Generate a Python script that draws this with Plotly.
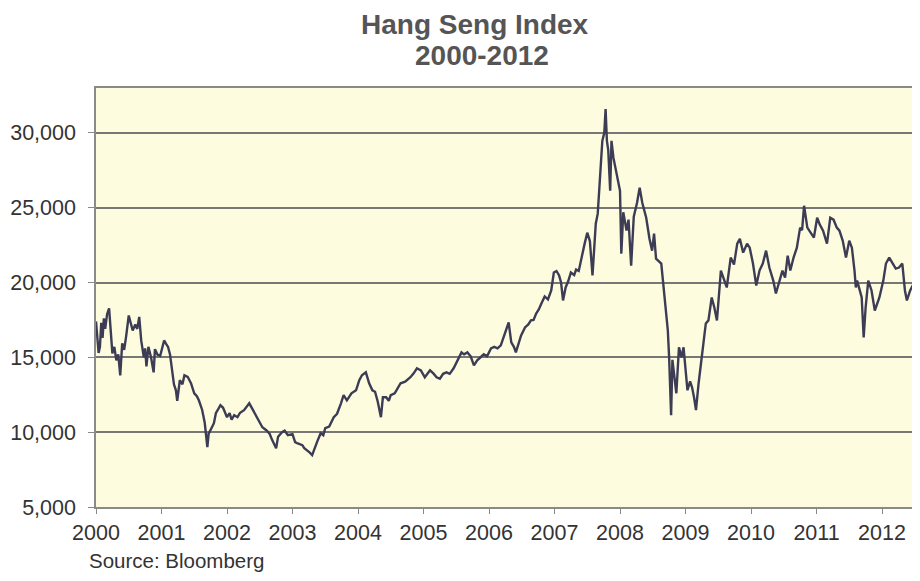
import plotly.graph_objects as go

# Decimal-year positions of the readings and the index level
years = [
 2000.00,2000.02,2000.04,2000.06,2000.08,2000.10,2000.12,2000.14,2000.17,2000.20,
 2000.22,2000.25,2000.28,2000.31,2000.34,2000.37,2000.40,2000.43,2000.46,2000.50,
 2000.53,2000.56,2000.60,2000.63,2000.66,2000.69,2000.73,2000.75,2000.77,2000.80,
 2000.84,2000.88,2000.90,2000.94,2000.98,2001.04,2001.07,2001.10,2001.13,2001.16,
 2001.19,2001.22,2001.24,2001.28,2001.32,2001.35,2001.40,2001.45,2001.50,2001.54,
 2001.57,2001.62,2001.66,2001.70,2001.72,2001.77,2001.80,2001.83,2001.90,2001.94,
 2002.00,2002.04,2002.07,2002.11,2002.16,2002.20,2002.26,2002.34,2002.38,2002.42,
 2002.45,2002.50,2002.54,2002.60,2002.65,2002.69,2002.75,2002.78,2002.84,2002.88,
 2002.93,2003.00,2003.04,2003.07,2003.12,2003.15,2003.18,2003.22,2003.26,2003.30,
 2003.34,2003.38,2003.43,2003.47,2003.50,2003.56,2003.63,2003.68,2003.74,2003.78,
 2003.83,2003.90,2003.97,2004.02,2004.06,2004.12,2004.17,2004.22,2004.26,2004.30,
 2004.35,2004.38,2004.43,2004.47,2004.50,2004.56,2004.60,2004.65,2004.72,2004.80,
 2004.85,2004.90,2004.96,2005.02,2005.06,2005.10,2005.15,2005.20,2005.25,2005.30,
 2005.35,2005.40,2005.46,2005.52,2005.58,2005.62,2005.67,2005.72,2005.77,2005.82,
 2005.87,2005.92,2005.97,2006.03,2006.08,2006.13,2006.18,2006.23,2006.27,2006.30,
 2006.34,2006.38,2006.41,2006.45,2006.49,2006.55,2006.60,2006.64,2006.68,2006.72,
 2006.76,2006.80,2006.85,2006.90,2006.95,2006.99,2007.03,2007.07,2007.10,2007.13,
 2007.17,2007.21,2007.25,2007.30,2007.33,2007.37,2007.42,2007.46,2007.50,2007.54,
 2007.58,2007.61,2007.63,2007.66,2007.70,2007.73,2007.76,2007.78,2007.80,2007.82,
 2007.85,2007.87,2007.90,2007.96,2008.00,2008.02,2008.05,2008.10,2008.13,2008.17,
 2008.21,2008.26,2008.30,2008.34,2008.40,2008.45,2008.49,2008.52,2008.55,2008.63,
 2008.66,2008.69,2008.73,2008.75,2008.78,2008.80,2008.82,2008.86,2008.90,2008.94,
 2008.97,2009.03,2009.07,2009.10,2009.13,2009.16,2009.20,2009.24,2009.27,2009.31,
 2009.35,2009.40,2009.44,2009.48,2009.54,2009.58,2009.63,2009.69,2009.74,2009.79,
 2009.83,2009.88,2009.94,2009.98,2010.03,2010.08,2010.13,2010.18,2010.23,2010.28,
 2010.34,2010.38,2010.43,2010.48,2010.52,2010.56,2010.60,2010.65,2010.70,2010.75,
 2010.78,2010.81,2010.86,2010.91,2010.96,2011.01,2011.05,2011.10,2011.16,2011.21,
 2011.26,2011.31,2011.35,2011.40,2011.45,2011.50,2011.54,2011.58,2011.60,2011.62,
 2011.69,2011.72,2011.75,2011.79,2011.84,2011.89,2011.96,2012.02,2012.06,2012.11,
 2012.16,2012.21,2012.26,2012.31,2012.35,2012.38,2012.43,2012.48,2012.53,2012.57,
]

hsi = [
 17400,16500,15300,15700,17300,16300,17600,16900,17900,18270,
 17000,15270,15700,14800,15200,13800,15930,15500,16400,17800,
 17300,16800,17200,16900,17700,16130,15000,15600,14400,15700,
 15000,14000,15550,15170,15100,16130,15900,15700,15200,14100,
 13200,12800,12100,13470,13200,13800,13700,13270,12600,12400,
 12130,11500,10630,9000,9900,10330,10600,11270,11800,11630,
 11000,11270,10830,11130,11000,11300,11470,11930,11600,11300,
 11000,10600,10330,10130,9900,9470,8930,9700,10000,10100,
 9800,9870,9330,9270,9200,9130,8930,8800,8650,8470,
 9000,9400,9930,9800,10270,10370,11000,11230,11930,12470,
 12130,12600,12800,13470,13800,14000,13270,12800,12700,12070,
 11000,12330,12330,12100,12470,12600,12900,13270,13370,13670,
 13930,14270,14130,13670,13900,14130,13930,13670,13570,13900,
 14000,13900,14270,14800,15330,15200,15330,15070,14470,14800,
 15000,15200,15070,15600,15700,15600,15800,16470,16900,17330,
 16000,15700,15330,15900,16470,17000,17200,17470,17500,17930,
 18200,18600,19070,18870,19470,20670,20770,20470,20000,18800,
 19670,20100,20670,20500,20870,20770,21930,22600,23330,22770,
 20470,22500,23930,24600,27270,29470,30000,31600,29470,28870,
 26130,29470,28330,27000,26130,21930,24700,23470,24200,21130,
 24400,25330,26330,25330,24330,22930,22130,23270,21600,21270,
 20000,18330,16800,15000,11130,14830,13930,12600,15670,15000,
 15670,12800,13400,13000,12330,11470,13270,14600,15930,17270,
 17470,19000,18330,17470,20800,20330,19670,21670,21200,22600,
 22930,22000,22600,22330,21270,19800,20800,21270,22130,21000,
 20130,19270,20000,20800,20330,21800,20800,21670,22330,23670,
 23500,25130,23670,23330,23000,24330,23870,23470,22600,24330,
 24200,23670,23470,22800,21670,22800,22330,20800,19670,20130,
 19000,16330,18330,20130,19470,18130,19000,20130,21270,21670,
 21270,20930,21000,21270,19470,18800,19470,19870,20330,20130,
]

year_ticks = [2000, 2001, 2002, 2003, 2004, 2005, 2006, 2007, 2008, 2009, 2010, 2011, 2012]
year_labels = [str(y) for y in year_ticks]
value_ticks = [5000, 10000, 15000, 20000, 25000, 30000]
value_labels = ["5,000", "10,000", "15,000", "20,000", "25,000", "30,000"]

title_lines = ["Hang Seng Index", "2000-2012"]
source_text = "Source: Bloomberg"

FONT = "Liberation Sans, Arial, sans-serif"

fig = go.Figure()
fig.add_trace(go.Scatter(
    x=years, y=hsi, mode="lines",
    line=dict(color="#3d3c55", width=2.4),
    hoverinfo="skip", showlegend=False,
))

# page body has an 8px margin, so the figure is 8px smaller than the window
fig.update_layout(
    width=912, height=573,
    paper_bgcolor="white",
    plot_bgcolor="#fefcdf",
    margin=dict(l=88, r=0, t=80, b=74),
    showlegend=False,
)

fig.update_xaxes(
    range=[2000, 2012.58],
    tickmode="array", tickvals=year_ticks, ticktext=year_labels,
    ticks="outside", ticklen=5, tickwidth=1, tickcolor="#888888",
    tickfont=dict(family=FONT, size=21.5, color="#333333"),
    showgrid=False, zeroline=False,
    showline=True, linecolor="#8a8a8a", linewidth=1.5, mirror=True,
    ticklabelstandoff=0,
)
fig.update_yaxes(
    range=[5000, 33000],
    tickmode="array", tickvals=value_ticks, ticktext=value_labels,
    ticks="outside", ticklen=6, tickwidth=1, tickcolor="#888888",
    tickfont=dict(family=FONT, size=21.5, color="#333333"),
    showgrid=True, gridcolor="#777777", gridwidth=1.5,
    zeroline=False,
    showline=True, linecolor="#8a8a8a", linewidth=1.5,
    ticklabelstandoff=8,
)

fig.add_annotation(
    text="<b>" + title_lines[0] + "</b>", xref="paper", yref="paper",
    x=0.46, y=1.152, xanchor="center", yanchor="middle", showarrow=False,
    font=dict(family=FONT, size=28, color="#555555"),
)
fig.add_annotation(
    text="<b>" + title_lines[1] + "</b>", xref="paper", yref="paper",
    x=0.468, y=1.077, xanchor="center", yanchor="middle", showarrow=False,
    font=dict(family=FONT, size=28, color="#555555"),
)
fig.add_annotation(
    text=source_text, xref="paper", yref="paper",
    x=-0.011, y=-0.1265, xanchor="left", yanchor="middle", showarrow=False,
    font=dict(family=FONT, size=20.5, color="#333333"),
)

fig.write_html("out.html")
